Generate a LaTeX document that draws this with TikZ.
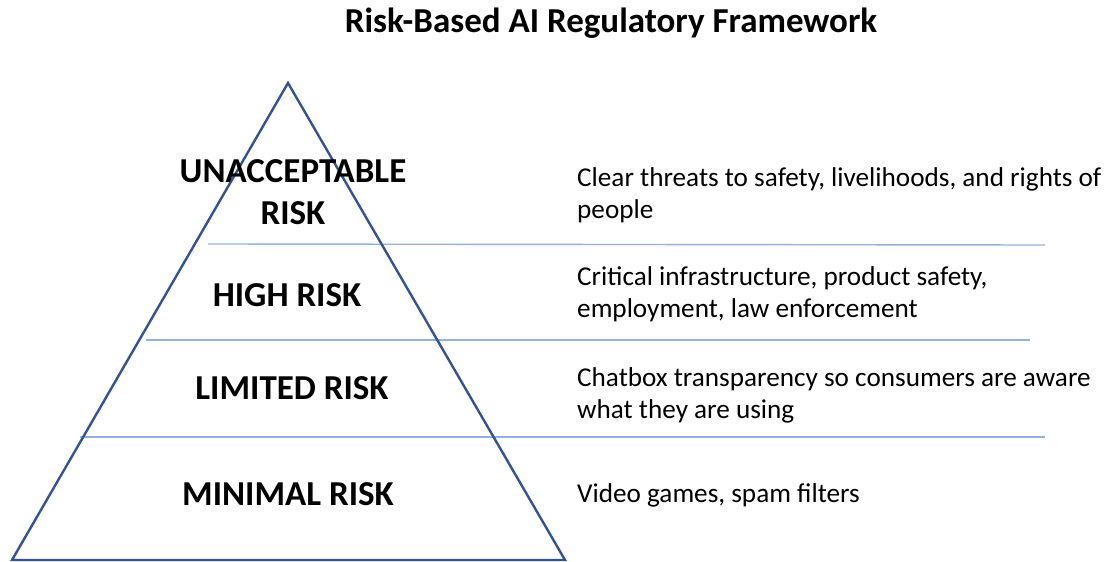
\documentclass[tikz,border=0pt]{standalone}
\usepackage{fontspec}
\setmainfont{Carlito}
\usetikzlibrary{positioning}
\definecolor{pyramidblue}{RGB}{52,82,150}
\definecolor{bandblue}{RGB}{150,175,222}

\begin{document}
\begin{tikzpicture}
	[x=1pt,y=-1pt,
	tier/.style={inner sep=0pt,anchor=base,font=\fontsize{35}{42}\selectfont\bfseries,align=center},
	note/.style={inner sep=0pt,anchor=base west,font=\fontsize{27.2}{32}\selectfont,align=left},
	band/.style={draw=bandblue,line width=1.4pt}]
	\useasboundingbox (0,0) rectangle (1109,562);
	
	% title
	\node[inner sep=0pt,anchor=base,font=\fontsize{35}{40}\selectfont\bfseries] (title) at (611,32) {Risk-Based AI Regulatory Framework};
	
	% pyramid corners
	\coordinate (apex) at (288,83);
	\coordinate (bl) at (12,560);
	\coordinate (br) at (565,560);
	
	% band ends
	\coordinate (b1l) at (208,244);
	\coordinate (b1r) at (1045,245);
	\coordinate (b2l) at (146,340);
	\coordinate (b2r) at (1030,340);
	\coordinate (b3l) at (80,437);
	\coordinate (b3r) at (1045,437);
	
	\draw[band] (b1l) -- (b1r);
	\draw[band] (b2l) -- (b2r);
	\draw[band] (b3l) -- (b3r);
	
	\draw[draw=pyramidblue,line width=2.4pt,line join=miter] (apex) -- (bl) -- (br) -- cycle;
	
	% tiers (base = last line)
	\node[tier] (t1) at (293,224) {UNACCEPTABLE\\RISK};
	\node[tier] (t2) at (287,306) {HIGH RISK};
	\node[tier] (t3) at (292,399) {LIMITED RISK};
	\node[tier] (t4) at (288,505) {MINIMAL RISK};
	
	% descriptions
	\node[note] (n1) at (577,218) {Clear threats to safety, livelihoods, and rights of\\people};
	\node[note] (n2) at (577,317) {Critical infrastructure, product safety,\\employment, law enforcement};
	\node[note] (n3) at (577,418) {Chatbox transparency so consumers are aware\\what they are using};
	\node[note] (n4) at (577,502) {Video games, spam filters};
\end{tikzpicture}
\end{document}
